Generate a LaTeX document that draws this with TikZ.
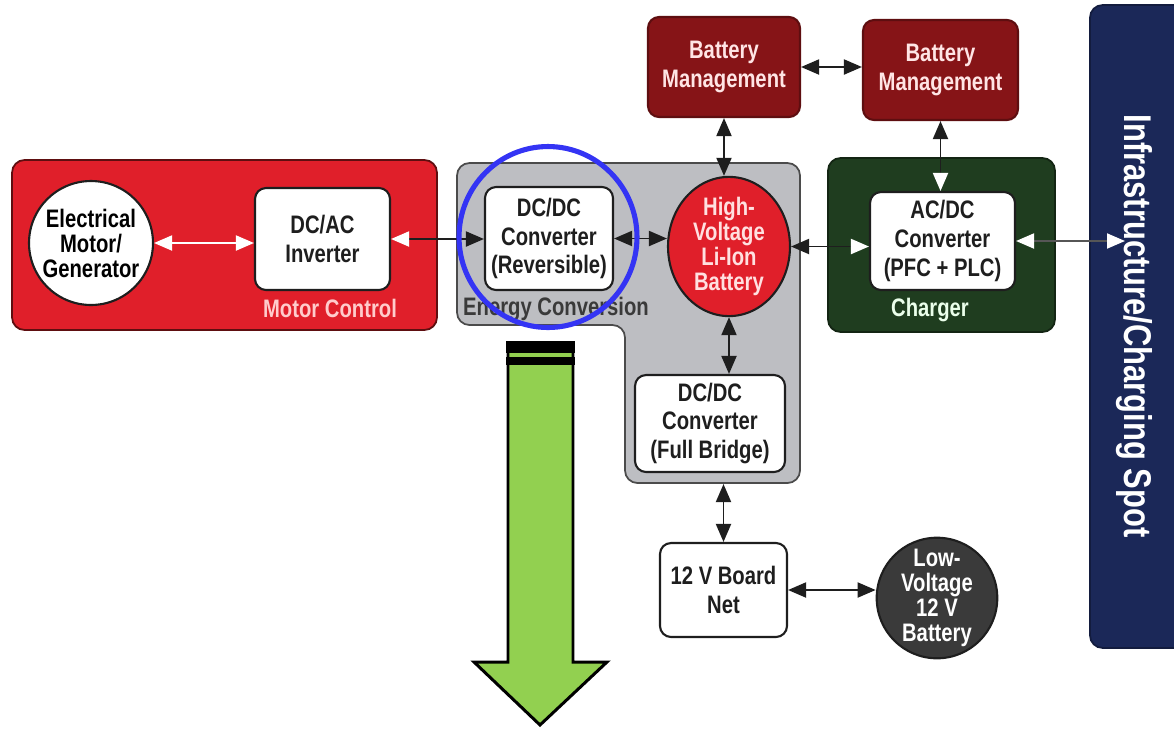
\documentclass[tikz,border=0pt]{standalone}
\usepackage{fontspec}
\setmainfont{Liberation Sans}[FakeStretch=0.8]
\usetikzlibrary{arrows.meta,shapes.geometric}
\definecolor{motorred}{HTML}{E01F2A}
\definecolor{bmred}{HTML}{861417}
\definecolor{convgray}{HTML}{BDBEC2}
\definecolor{chargegreen}{HTML}{1F3D1F}
\definecolor{infranavy}{HTML}{1B2858}
\definecolor{lvgray}{HTML}{3A3A3A}
\definecolor{markblue}{HTML}{3434F4}
\definecolor{arrowgreen}{HTML}{92D050}
\definecolor{linkgray}{HTML}{1E1E1E}
\tikzset{
  blk/.tip={Triangle[length=0.36cm,width=0.3cm]},
  wht/.tip={Triangle[length=0.36cm,width=0.3cm,white]},
  block/.style={draw=linkgray, line width=1.2pt, fill=white, rounded corners=0.22cm,
    align=center, text=linkgray, inner sep=0pt,
    font=\bfseries\fontsize{14.4}{16.4}\selectfont},
  unit/.style={circle, draw=linkgray, line width=1.2pt, align=center, inner sep=0pt,
    font=\bfseries\fontsize{14.4}{14.2}\selectfont},
  group/.style={rounded corners=0.25cm, line width=1pt},
  grouplabel/.style={font=\bfseries\fontsize{14.4}{16}\selectfont},
  link/.style={draw=linkgray, line width=1.1pt}
}
\begin{document}
\begin{tikzpicture}[x=0.02cm, y=-0.02cm]
  \useasboundingbox (0,0) rectangle (1174,728);
  % group backgrounds
  \node[group, draw=bmred!70!black, fill=motorred, minimum width=8.5cm, minimum height=3.4cm]
    (motorctl) at (224.5,245) {};
  \draw[group, draw=linkgray!80, fill=convgray]
    (457,163) -- (800,163) -- (800,483) -- (625,483) -- (625,325) -- (457,325) -- cycle;
  \node[group, draw=chargegreen!60!black, fill=chargegreen, minimum width=4.54cm, minimum height=3.48cm]
    (charger) at (941.5,245) {};
  \node[group, draw=infranavy!70!black, fill=infranavy, minimum width=2.1cm, minimum height=12.86cm]
    (infra) at (1142.5,326.5) {};
  \node[grouplabel, text=red!20!white] (motorlbl) at (330,308) {Motor Control};
  \node[grouplabel, text=lvgray] (convlbl) at (556,309) {Energy Conversion};
  \node[grouplabel, text=green!8!white] (chargelbl) at (930,310) {Charger};
  \node[rotate=-90, text=white, font=\bfseries\fontsize{22}{24}\selectfont]
    (infralbl) at (1134,326) {Infrastructure/Charging Spot};
  \coordinate (infraport) at (1125,245);
  % units
  \node[unit, fill=white, minimum size=2.48cm] (motor) at (91,243) {Electrical\\Motor/\\Generator};
  \node[block, minimum width=2.7cm, minimum height=2.04cm] (inverter) at (322.5,239) {DC/AC\\Inverter};
  \node[block, minimum width=2.56cm, minimum height=2.06cm] (dcdcrev) at (549,238.5) {DC/DC\\Converter\\(Reversible)};
  \node[unit, ellipse, fill=motorred, text=red!12!white, minimum width=2.44cm, minimum height=2.74cm]
    (hvbatt) at (729,246.5) {High-\\Voltage\\Li-Ion\\Battery};
  \node[block, fill=bmred, draw=bmred!70!black, text=red!10!white, minimum width=3.04cm, minimum height=2cm]
    (bm1) at (724,67) {Battery\\Management};
  \node[block, fill=bmred, draw=bmred!70!black, text=red!10!white, minimum width=3.1cm, minimum height=2cm]
    (bm2) at (940.5,70) {Battery\\Management};
  \node[block, minimum width=2.9cm, minimum height=1.96cm] (acdc) at (942.5,241) {AC/DC\\Converter\\(PFC + PLC)};
  \node[block, minimum width=3cm, minimum height=1.94cm] (fullbridge) at (710,423.5) {DC/DC\\Converter\\(Full Bridge)};
  \node[block, minimum width=2.54cm, minimum height=1.88cm] (boardnet) at (723.5,590) {12 V Board\\Net};
  \node[unit, fill=lvgray, text=white, minimum size=2.4cm] (lvbatt) at (937,598) {Low-\\Voltage\\12 V\\Battery};
  % connections
  \draw[link, draw=white, wht-wht] (motor.east) -- (motor.east -| inverter.west);
  \draw[link, wht-blk] (inverter.east) -- (inverter.east -| dcdcrev.west);
  \draw[link, blk-blk] (dcdcrev.east) -- (dcdcrev.east -| hvbatt.west);
  \draw[link, blk-wht] (hvbatt.east) -- (hvbatt.east -| acdc.west);
  \draw[link, draw=linkgray!75, wht-wht] (acdc.east) -- (acdc.east -| infraport);
  \draw[link, blk-blk] (bm1.east) -- (bm1.east -| bm2.west);
  \draw[link, blk-blk] (bm1.south) -- (bm1.south |- hvbatt.north);
  \draw[link, blk-wht] (bm2.south) -- (bm2.south |- acdc.north);
  \draw[link, blk-blk] (hvbatt.south) -- (hvbatt.south |- fullbridge.north);
  \draw[link, blk-blk, shorten <=0.22cm] (boardnet.north |- fullbridge.south) -- (boardnet.north);
  \draw[link, blk-blk] (boardnet.east) -- (boardnet.east -| lvbatt.west);
  % highlight
  \node[ellipse, draw=markblue, line width=2.9pt, minimum width=3.56cm, minimum height=3.62cm]
    (highlight) at (548,237) {};
  \draw[fill=arrowgreen, line width=1.7pt, line join=miter]
    (508,343) -- (573,343) -- (573,662) -- (607,662) -- (540,725) -- (474,662) -- (508,662) -- cycle;
  \fill[black] (506,341) rectangle (575,353);
  \fill[black] (506,357) rectangle (575,365);
  \fill[arrowgreen] (511,353) rectangle (570,357);
\end{tikzpicture}
\end{document}
